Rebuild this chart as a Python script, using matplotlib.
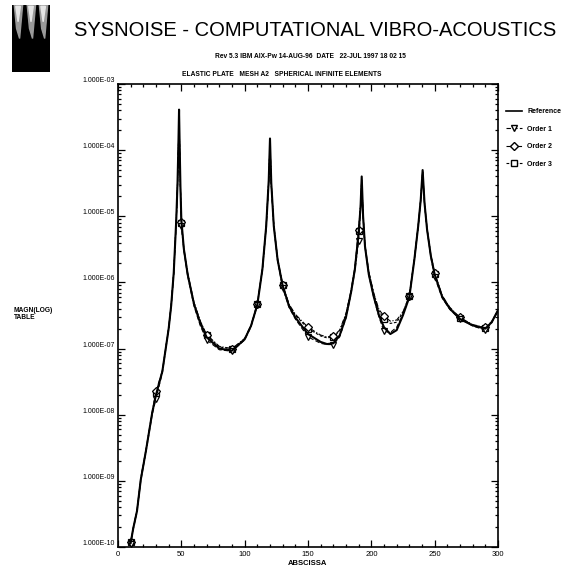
import matplotlib
matplotlib.use("Agg")
import matplotlib.pyplot as plt
from matplotlib.ticker import MultipleLocator, LogLocator, NullFormatter, FixedLocator
from matplotlib.lines import Line2D
from matplotlib.patches import Rectangle, Polygon

plt.rcParams['font.family'] = ['Liberation Sans', 'DejaVu Sans']

# ---------------- data ----------------
freq = [10, 12, 15, 18, 22, 27, 30, 35, 40, 42, 44, 46, 47, 47.7, 48.2, 48.7, 49.3, 50,
        52, 55, 60, 65, 70, 80, 90, 100, 105, 110, 114, 117, 119, 120, 121, 123, 126, 130,
        135, 140, 150, 160, 165, 170, 175, 180, 184, 187, 190, 191.5, 192.4, 193.5, 195, 198,
        202, 206, 210, 215, 220, 225, 230, 234, 237, 239, 240.5, 242, 244, 247, 250, 256,
        262, 270, 280, 290, 295, 300]

reference = [1.15e-10, 1.9e-10, 3.5e-10, 1.05e-9, 2.8e-9, 1.07e-8, 2.0e-8, 4.5e-8, 2.0e-7, 4.5e-7,
             1.4e-6, 8.9e-6, 3.2e-5, 1.26e-4, 4.1e-4, 1.12e-4, 2.8e-5, 8.9e-6,
             3.2e-6, 1.32e-6, 4.7e-7, 2.4e-7, 1.48e-7, 1.0e-7, 9.3e-8, 1.38e-7, 2.2e-7, 4.6e-7,
             1.58e-6, 7.1e-6, 3.5e-5, 1.5e-4, 3.2e-5, 7.1e-6, 2.2e-6, 8.9e-7,
             4.4e-7, 2.95e-7, 1.66e-7, 1.26e-7, 1.17e-7, 1.2e-7, 1.58e-7, 3.0e-7, 7.1e-7, 1.58e-6,
             5.6e-6, 1.4e-5, 4.0e-5, 1.0e-5, 3.5e-6, 1.32e-6,
             6.0e-7, 3.2e-7, 2.1e-7, 1.66e-7, 1.9e-7, 3.2e-7, 6.0e-7, 2.24e-6, 7.1e-6, 1.78e-5,
             5.0e-5, 1.58e-5, 6.3e-6, 2.5e-6, 1.32e-6, 6.0e-7,
             4.0e-7, 2.8e-7, 2.24e-7, 2.0e-7, 2.5e-7, 3.8e-7]

order1 = [1.1e-10, 1.85e-10, 3.4e-10, 1.0e-9, 2.7e-9, 1.0e-8, 1.75e-8, 4.3e-8, 1.95e-7, 4.4e-7,
          1.35e-6, 8.5e-6, 3.0e-5, 1.1e-4, 2.6e-4, 1.0e-4, 2.6e-5, 7.1e-6,
          3.0e-6, 1.25e-6, 4.4e-7, 2.2e-7, 1.35e-7, 9.6e-8, 9.1e-8, 1.35e-7, 2.15e-7, 4.5e-7,
          1.55e-6, 7.0e-6, 3.3e-5, 1.25e-4, 3.0e-5, 6.9e-6, 2.1e-6, 8.3e-7,
          4.2e-7, 2.8e-7, 1.5e-7, 1.2e-7, 1.15e-7, 1.15e-7, 1.5e-7, 2.9e-7, 6.8e-7, 1.5e-6,
          4.2e-6, 1.3e-5, 3.4e-5, 9.5e-6, 3.4e-6, 1.3e-6,
          5.8e-7, 3.0e-7, 1.82e-7, 1.75e-7, 2.1e-7, 3.3e-7, 6.0e-7, 2.2e-6, 7.0e-6, 1.75e-5,
          4.8e-5, 1.55e-5, 6.2e-6, 2.4e-6, 1.2e-6, 5.8e-7,
          3.9e-7, 2.8e-7, 2.2e-7, 1.9e-7, 2.45e-7, 3.7e-7]

order2 = [1.2e-10, 1.95e-10, 3.6e-10, 1.1e-9, 2.9e-9, 1.1e-8, 2.25e-8, 4.6e-8, 2.05e-7, 4.6e-7,
          1.42e-6, 9.0e-6, 3.1e-5, 1.15e-4, 3.0e-4, 1.05e-4, 2.7e-5, 8.3e-6,
          3.3e-6, 1.38e-6, 5.0e-7, 2.6e-7, 1.62e-7, 1.08e-7, 1.0e-7, 1.42e-7, 2.25e-7, 4.8e-7,
          1.6e-6, 7.2e-6, 3.4e-5, 1.35e-4, 3.1e-5, 7.3e-6, 2.3e-6, 9.3e-7,
          4.7e-7, 3.3e-7, 2.1e-7, 1.6e-7, 1.5e-7, 1.55e-7, 1.9e-7, 3.4e-7, 7.6e-7, 1.7e-6,
          6.3e-6, 1.5e-5, 3.6e-5, 1.05e-5, 3.7e-6, 1.45e-6,
          6.8e-7, 3.9e-7, 3.1e-7, 2.6e-7, 2.7e-7, 3.6e-7, 6.3e-7, 2.3e-6, 7.2e-6, 1.8e-5,
          4.6e-5, 1.6e-5, 6.5e-6, 2.6e-6, 1.38e-6, 6.3e-7,
          4.2e-7, 2.95e-7, 2.3e-7, 2.1e-7, 2.55e-7, 3.8e-7]

order3 = [1.18e-10, 1.9e-10, 3.55e-10, 1.08e-9, 2.85e-9, 1.08e-8, 2.15e-8, 4.55e-8, 2.02e-7, 4.55e-7,
          1.4e-6, 8.8e-6, 3.05e-5, 1.12e-4, 2.8e-4, 1.02e-4, 2.65e-5, 8.0e-6,
          3.2e-6, 1.35e-6, 4.9e-7, 2.55e-7, 1.58e-7, 1.06e-7, 9.8e-8, 1.4e-7, 2.22e-7, 4.7e-7,
          1.58e-6, 7.1e-6, 3.35e-5, 1.3e-4, 3.05e-5, 7.2e-6, 2.25e-6, 9.0e-7,
          4.6e-7, 3.2e-7, 2.0e-7, 1.55e-7, 1.45e-7, 1.5e-7, 1.85e-7, 3.3e-7, 7.4e-7, 1.65e-6,
          6.0e-6, 1.45e-5, 3.5e-5, 1.02e-5, 3.6e-6, 1.42e-6,
          6.6e-7, 3.7e-7, 2.8e-7, 2.4e-7, 2.5e-7, 3.5e-7, 6.2e-7, 2.28e-6, 7.1e-6, 1.78e-5,
          4.7e-5, 1.58e-5, 6.4e-6, 2.55e-6, 1.35e-6, 6.2e-7,
          4.1e-7, 2.9e-7, 2.28e-7, 2.05e-7, 2.5e-7, 3.8e-7]

marker_freqs = [10, 30, 50, 70, 90, 110, 130, 150, 170, 190, 210, 230, 250, 270, 290]

series_labels = ["Reference", "Order 1", "Order 2", "Order 3"]
ytick_values = [1e-10, 1e-9, 1e-8, 1e-7, 1e-6, 1e-5, 1e-4, 1e-3]
ytick_labels = ["1.000E-10", "1.000E-09", "1.000E-08", "1.000E-07",
                "1.000E-06", "1.000E-05", "1.000E-04", "1.000E-03"]
xtick_values = [0, 50, 100, 150, 200, 250, 300]

# ---------------- figure ----------------
W, H = 570, 570
fig = plt.figure(figsize=(W / 100, H / 100), dpi=100)
fig.patch.set_facecolor('white')

def fx(px):
    return px / W

def fy(py):
    return 1 - py / H

ax = fig.add_axes([fx(118), fy(547), fx(498) - fx(118), fy(84) - fy(547)])

mk_idx = [freq.index(m) for m in marker_freqs]

ax.plot(freq, reference, color='black', lw=1.5, ls='-', label=series_labels[0], zorder=5)
ax.plot(freq, order1, color='black', lw=0.8, ls=(0, (4, 2)), marker='v', ms=5,
        mfc='white', mec='black', mew=0.9, markevery=mk_idx, label=series_labels[1], zorder=4)
ax.plot(freq, order2, color='black', lw=0.8, ls=(0, (5, 1.5, 1, 1.5)), marker='D', ms=4.5,
        mfc='white', mec='black', mew=0.9, markevery=mk_idx, label=series_labels[2], zorder=3)
ax.plot(freq, order3, color='black', lw=0.8, ls=(0, (2.5, 1.5)), marker='s', ms=4,
        mfc='white', mec='black', mew=0.9, markevery=mk_idx, label=series_labels[3], zorder=2)

ax.set_yscale('log')
ax.set_xlim(0, 300)
ax.set_ylim(1e-10, 1e-3)

ax.xaxis.set_major_locator(FixedLocator(xtick_values))
ax.xaxis.set_minor_locator(MultipleLocator(10))
ax.set_xticklabels([str(v) for v in xtick_values], fontsize=5.5)
ax.yaxis.set_major_locator(FixedLocator(ytick_values))
ax.yaxis.set_minor_locator(LogLocator(base=10, subs=range(2, 10), numticks=20))
ax.yaxis.set_minor_formatter(NullFormatter())
ax.set_yticklabels(ytick_labels, fontsize=5, va='bottom')

ax.tick_params(axis='both', which='both', direction='in', top=True, right=True,
               color='black', width=0.9)
ax.tick_params(axis='both', which='major', length=5, pad=2)
ax.tick_params(axis='both', which='minor', length=2.5)
ax.tick_params(axis='x', which='major', pad=3)
for sp in ax.spines.values():
    sp.set_linewidth(1.2)
    sp.set_color('black')

ax.set_xlabel("ABSCISSA", fontsize=5.5, fontweight='bold', labelpad=1)

# titles
fig.text(fx(315), fy(30), "SYSNOISE - COMPUTATIONAL VIBRO-ACOUSTICS",
         fontsize=14.5, ha='center', va='center', color='black')
fig.text(fx(310), fy(56), "Rev 5.3 IBM AIX-Pw 14-AUG-96  DATE   22-JUL 1997 18 02 15",
         fontsize=4.8, ha='center', va='center', fontweight='bold')
fig.text(fx(282), fy(75), "ELASTIC PLATE   MESH A2   SPHERICAL INFINITE ELEMENTS",
         fontsize=4.8, ha='center', va='center', fontweight='bold')
fig.text(fx(14), fy(314), "MAGN(LOG)\nTABLE", fontsize=4.8, ha='left', va='center',
         fontweight='bold', linespacing=1.1)

# logo block (decorative)
logo_ax = fig.add_axes([fx(12), fy(72), fx(50) - fx(12), fy(5) - fy(72)])
logo_ax.set_xlim(0, 1)
logo_ax.set_ylim(0, 1)
logo_ax.axis('off')
logo_ax.add_patch(Rectangle((0, 0), 1, 1, color='black'))
for x0 in (0.06, 0.40, 0.72):
    logo_ax.add_patch(Polygon([(x0, 1), (x0 + 0.22, 1), (x0 + 0.14, 0.5), (x0 + 0.06, 0.65)],
                              closed=True, color='#9a9a9a'))
    logo_ax.add_patch(Polygon([(x0 + 0.04, 0.98), (x0 + 0.16, 0.98), (x0 + 0.1, 0.75)],
                              closed=True, color='#e6e6e6'))

# legend (manual)
handles = [
    Line2D([], [], color='black', lw=1.2, ls='-'),
    Line2D([], [], color='black', lw=0.8, ls=(0, (4, 2)), marker='v', ms=5, mfc='white', mec='black'),
    Line2D([], [], color='black', lw=0.8, ls=(0, (5, 1.5, 1, 1.5)), marker='D', ms=4.5, mfc='white', mec='black'),
    Line2D([], [], color='black', lw=0.8, ls=(0, (2.5, 1.5)), marker='s', ms=4, mfc='white', mec='black'),
]
leg = fig.legend(handles, series_labels, loc='upper left',
                 bbox_to_anchor=(fx(503), fy(105)), frameon=False, fontsize=5,
                 handlelength=2.2, handletextpad=0.8, labelspacing=1.5, borderpad=0)
for t in leg.get_texts():
    t.set_fontweight('bold')

fig.savefig("out.png", dpi=100, facecolor='white')
